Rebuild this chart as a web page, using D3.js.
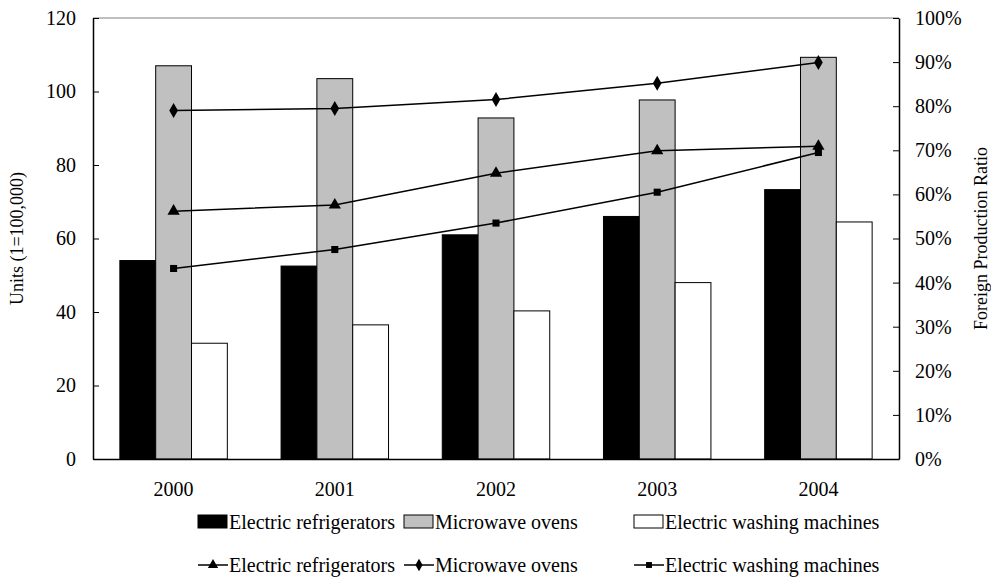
<!DOCTYPE html>
<html>
<head>
<meta charset="utf-8">
<script src="https://cdn.jsdelivr.net/npm/d3@7"></script>
<style>
    body { margin: 0; background: #fff; }
    text { font-family: "Liberation Serif", "Times New Roman", serif; fill: #000; }
</style>
</head>
<body>
<div id="chart"></div>
<script>
const years = ["2000", "2001", "2002", "2003", "2004"];
const seriesNames = ["Electric refrigerators", "Microwave ovens", "Electric washing machines"];
// units (1=100,000)
const refrigerators = [54, 52.5, 61, 66, 73.3];
const microwaves = [107, 103.5, 92.8, 97.7, 109.3];
const washers = [31.5, 36.5, 40.3, 48, 64.5];
// foreign production ratio
const refrigRatio = [0.562, 0.576, 0.648, 0.699, 0.709];
const microRatio = [0.790, 0.795, 0.815, 0.852, 0.899];
const washerRatio = [0.432, 0.475, 0.535, 0.605, 0.695];
const leftTicks = [0, 20, 40, 60, 80, 100, 120];
const rightTicks = [0, 0.1, 0.2, 0.3, 0.4, 0.5, 0.6, 0.7, 0.8, 0.9, 1];

const barColors = ["#000000", "#c0c0c0", "#ffffff"];
const markers = [d3.symbolTriangle, d3.symbolDiamond, d3.symbolSquare];
const markerSize = [65, 65, 50];

const margin = { top: 18, right: 92, bottom: 120, left: 93 };
const W = 991, H = 579;
const width = W - margin.left - margin.right;
const height = H - margin.top - margin.bottom;

const svg = d3.select("#chart").append("svg")
    .attr("width", W).attr("height", H);
const g = svg.append("g")
    .attr("transform", `translate(${margin.left}, ${margin.top})`);

// scales
const x = d3.scaleBand().domain(years).range([0, width]);
const bw = x.bandwidth() / 4.5;
const xs = d3.scaleBand().domain(seriesNames).range([0, 3 * bw]);
const y = d3.scaleLinear().domain([0, 120]).range([height, 0]);
const y2 = d3.scaleLinear().domain([0, 1]).range([height, 0]);

// top frame line
g.append("line")
    .attr("x1", 0).attr("x2", width).attr("y1", 0).attr("y2", 0)
    .attr("stroke", "#808080").attr("stroke-width", 1);

// bars
const barData = [refrigerators, microwaves, washers];
barData.forEach((vals, si) => {
    g.selectAll(null)
        .data(vals)
        .enter()
        .append("rect")
        .attr("x", (d, i) => x(years[i]) + 0.75 * bw + xs(seriesNames[si]))
        .attr("y", d => y(d))
        .attr("width", bw)
        .attr("height", d => height - y(d))
        .attr("fill", barColors[si])
        .attr("stroke", "#000")
        .attr("stroke-width", 1);
});

// lines
const ratioData = [refrigRatio, microRatio, washerRatio];
const line = d3.line()
    .x((d, i) => x(years[i]) + x.bandwidth() / 2)
    .y(d => y2(d));
ratioData.forEach((vals, si) => {
    g.append("path")
        .datum(vals)
        .attr("d", line)
        .attr("fill", "none")
        .attr("stroke", "#000")
        .attr("stroke-width", 1.5);
    g.selectAll(null)
        .data(vals)
        .enter()
        .append("path")
        .attr("d", d3.symbol().type(markers[si]).size(markerSize[si]))
        .attr("transform", (d, i) => `translate(${x(years[i]) + x.bandwidth() / 2}, ${y2(d)})`)
        .attr("fill", "#000");
});

// axes
const fontSize = "20px";
const left = g.append("g")
    .call(d3.axisLeft(y).tickValues(leftTicks).tickSizeInner(-6).tickSizeOuter(0).tickPadding(17));
const right = g.append("g")
    .attr("transform", `translate(${width}, 0)`)
    .call(d3.axisRight(y2).tickValues(rightTicks).tickSizeInner(-6).tickSizeOuter(0).tickPadding(16)
        .tickFormat(d3.format(".0%")));
const bottom = g.append("g")
    .attr("transform", `translate(0, ${height})`)
    .call(d3.axisBottom(x).tickSize(0).tickPadding(23));
[left, right, bottom].forEach(a => {
    a.attr("font-family", null).attr("font-size", null);
    a.selectAll("text").style("font-size", fontSize);
    a.selectAll("path.domain").attr("stroke", "#000").attr("stroke-width", 1.5);
    a.selectAll(".tick line").attr("stroke", "#000");
});

// axis titles
svg.append("text")
    .attr("transform", `translate(23, ${margin.top + height / 2}) rotate(-90)`)
    .attr("text-anchor", "middle")
    .style("font-size", "18px")
    .text("Units (1=100,000)");
svg.append("text")
    .attr("transform", `translate(987, ${margin.top + height / 2}) rotate(-90)`)
    .attr("text-anchor", "middle")
    .style("font-size", "18px")
    .text("Foreign Production Ratio");

// legend
const legendX = [198, 404, 634];
const legend = svg.append("g");
seriesNames.forEach((name, i) => {
    const r1 = legend.append("g").attr("transform", `translate(${legendX[i]}, 522)`);
    r1.append("rect")
        .attr("x", 0).attr("y", -7).attr("width", 29).attr("height", 13)
        .attr("fill", barColors[i]).attr("stroke", "#000");
    r1.append("text")
        .attr("x", 31).attr("dy", "0.35em")
        .style("font-size", fontSize)
        .text(name);

    const r2 = legend.append("g").attr("transform", `translate(${legendX[i]}, 565)`);
    r2.append("line")
        .attr("x1", 0).attr("x2", 30)
        .attr("stroke", "#000").attr("stroke-width", 1.5);
    r2.append("path")
        .attr("d", d3.symbol().type(markers[i]).size(markerSize[i] * 0.7))
        .attr("transform", "translate(15, 0)");
    r2.append("text")
        .attr("x", 31).attr("dy", "0.35em")
        .style("font-size", fontSize)
        .text(name);
});
</script>
</body>
</html>
